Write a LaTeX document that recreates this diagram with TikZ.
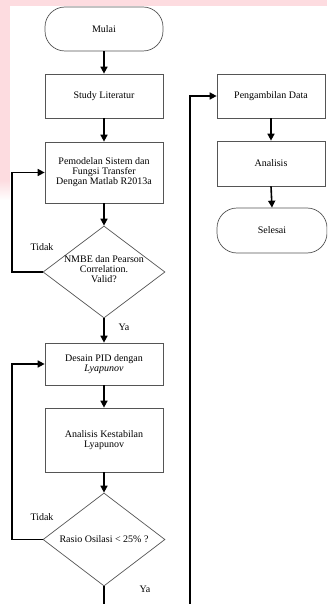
\documentclass[tikz,border=0pt]{standalone}
\usepackage{fontspec}
\setmainfont{Liberation Serif}
\usetikzlibrary{shapes.geometric,arrows.meta,fadings}
\definecolor{pinkbg}{RGB}{253,220,224}
\definecolor{edge}{RGB}{85,85,85}
\tikzset{
  box/.style={draw=edge, line width=0.7pt, rectangle, inner sep=0pt, align=center, font=\fontsize{10}{10}\selectfont},
  term/.style={box, rounded corners=20pt},
  dia/.style={draw=edge, line width=0.7pt, diamond, inner sep=0pt},
  txt/.style={inner sep=0pt, align=center, font=\fontsize{10}{10}\selectfont},
  arr/.style={line width=1.6pt, -{Triangle[length=7pt,width=7pt]}},
  lbl/.style={inner sep=0pt, font=\fontsize{10}{10}\selectfont}
}
\begin{document}
\begin{tikzpicture}[x=1pt,y=-1pt]
\useasboundingbox (0,0) rectangle (327,604);
\clip (0,0) rectangle (327,604);
\fill[white] (0,0) rectangle (327,604);
\fill[pinkbg] (0,0) rectangle (327,6);
\fill[pinkbg] (0,0) rectangle (10,180);
\fill[pinkbg, path fading=south] (0,180) rectangle (10,200);

% left column
\node[term, minimum width=118pt, minimum height=44pt] (mulai) at (104,29) {Mulai};
\node[box, minimum width=118pt, minimum height=44pt] (study) at (104,96) {Study Literatur};
\node[box, minimum width=118pt, minimum height=61pt] (model) at (104,172.5) {Pemodelan Sistem dan\\Fungsi Transfer\\Dengan Matlab R2013a};
\node[dia, minimum width=122pt, minimum height=92pt] (d1) at (104,272) {};
\node[txt] at (104,269) {NMBE dan Pearson\\Correlation.\\Valid?};
\node[box, minimum width=118pt, minimum height=42pt] (desain) at (104,364) {Desain PID dengan\\\textit{Lyapunov}};
\node[box, minimum width=118pt, minimum height=64pt] (anal) at (104,440) {Analisis Kestabilan\\Lyapunov};
\node[dia, minimum width=122pt, minimum height=93pt] (d2) at (104,539.5) {};
\node[txt] at (104,539.5) {Rasio Osilasi < 25\% ?};

% right column
\node[box, minimum width=108pt, minimum height=44pt] (peng) at (271,96) {Pengambilan Data};
\node[box, minimum width=108pt, minimum height=45pt] (analisis) at (271,163.5) {Analisis};
\node[term, minimum width=110pt, minimum height=45pt] (selesai) at (272,230.5) {Selesai};

% labels
\node[lbl] at (42,247) {Tidak};
\node[lbl] at (42,517) {Tidak};
\node[lbl] at (124,327) {Ya};
\node[lbl] at (145,589) {Ya};

% coordinates
\coordinate (l1) at (12,272);
\coordinate (l2) at (12,539.5);
\coordinate (b1) at (104,612);
\coordinate (b2) at (190,612);

% connectors
\draw[arr] (mulai.south) -- (study.north);
\draw[arr] (study.south) -- (model.north);
\draw[arr] (model.south) -- (d1.north);
\draw[arr] (d1.south) -- (desain.north);
\draw[arr] (desain.south) -- (anal.north);
\draw[arr] (anal.south) -- (d2.north);
\draw[arr] (d1.west) -- (l1) |- (model.west);
\draw[arr] (d2.west) -- (l2) |- (desain.west);
\draw[arr] (d2.south) -- (b1) -- (b2) |- (peng.west);
\draw[arr] (peng.south) -- (analisis.north);
\draw[arr] (analisis.south) -- (selesai.north);
\end{tikzpicture}
\end{document}
